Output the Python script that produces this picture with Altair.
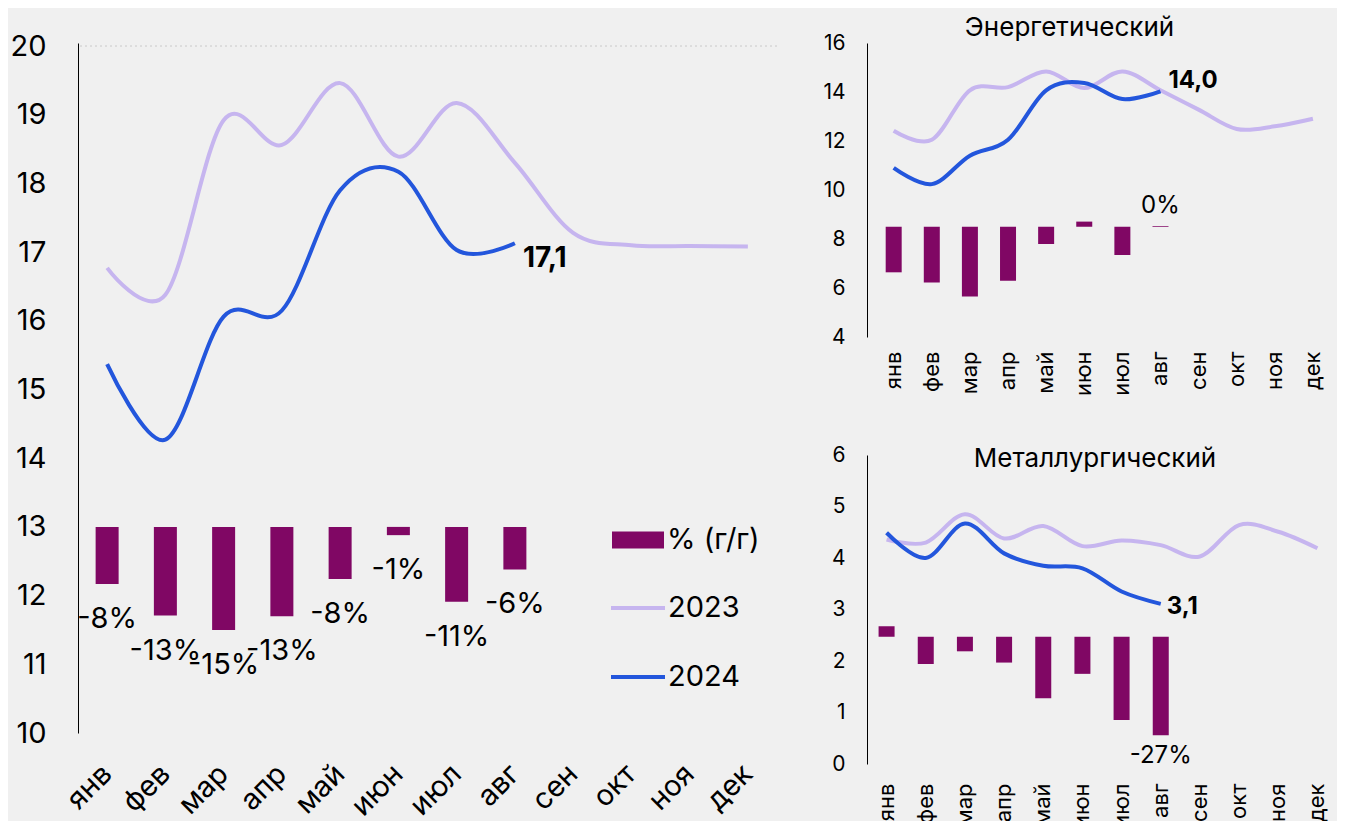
import altair as alt
import pandas as pd

months = ["янв", "фев", "мар", "апр", "май", "июн", "июл", "авг", "сен", "окт", "ноя", "дек"]

# Main panel (total)
main_2023 = [16.77, 16.38, 18.92, 18.56, 19.46, 18.39, 19.17, 18.30, 17.28, 17.10, 17.09, 17.08]
main_2024 = [15.37, 14.27, 16.06, 16.15, 17.90, 18.17, 17.03, 17.13]
main_pct = [-8.3, -12.9, -15.0, -13.0, -7.6, -1.2, -10.9, -6.2]

# Energy coal
en_2023 = [12.42, 12.05, 14.07, 14.20, 14.84, 14.16, 14.84, 14.07, 13.28, 12.49, 12.60, 12.91]
en_2024 = [10.90, 10.24, 11.40, 12.05, 14.07, 14.37, 13.71, 14.03]
en_pct = [-12.4, -15.2, -19.0, -14.7, -4.7, 1.4, -7.7, 0.2]

# Metallurgical coal
me_2023 = [4.36, 4.30, 4.85, 4.38, 4.62, 4.23, 4.34, 4.25, 4.03, 4.64, 4.51, 4.19]
me_2024 = [4.49, 4.00, 4.67, 4.09, 3.85, 3.80, 3.35, 3.11]
me_pct = [2.9, -7.5, -4.0, -7.1, -16.9, -10.2, -22.9, -27.1]

series_names = ["2023", "2024"]
bar_name = "% (г/г)"

FONT = "Inter"
C_BAR = "#800764"
C_23 = "#c6b5ef"
C_24 = "#2356dc"
BG = "#f0f0f0"


def lines_df(v23, v24):
    rows = [{"month": m, "series": "2023", "value": v} for m, v in zip(months, v23)]
    rows += [{"month": m, "series": "2024", "value": v} for m, v in zip(months, v24)]
    return pd.DataFrame(rows)


def bars_df(pct):
    return pd.DataFrame({"month": months[:len(pct)], "pct": pct, "series": bar_name})


def panel(v23, v24, pct, *, w, h, y_dom, y_ticks, bar_dom, bar_size,
          fs_tick, fs_month, month_angle, month_pad, ylab_pad,
          fs_pct, pct_filter, pct_dy, fs_end, end_dx, end_dy,
          title=None, legend=False, top_rule=None, x_pad_outer=0.0, x_align=0.5):
    ldf = lines_df(v23, v24)
    bdf = bars_df(pct)

    X = alt.X("month:N", sort=months,
              scale=alt.Scale(type="band", domain=months, paddingInner=0,
                              paddingOuter=x_pad_outer, align=x_align),
              axis=alt.Axis(title=None, labelAngle=month_angle, labelAlign="right",
                            labelBaseline="middle", labelPadding=month_pad,
                            labelFontSize=fs_month, labelFont=FONT, labelColor="black",
                            domain=False, ticks=False, grid=False))
    yscale = alt.Scale(domain=y_dom, nice=False, zero=False)
    yaxis = alt.Axis(title=None, values=y_ticks, format="d", grid=False, ticks=False,
                     domain=True, domainColor="black", domainWidth=1,
                     labelFontSize=fs_tick, labelFont=FONT, labelColor="black",
                     labelPadding=ylab_pad)
    bscale = alt.Scale(domain=bar_dom, nice=False, zero=False)

    if legend:
        stroke_leg = alt.Legend(title=None, orient="none", legendX=531, legendY=536,
                                symbolType="stroke", symbolSize=2916, symbolStrokeWidth=4,
                                labelFontSize=29, labelFont=FONT, labelColor="black",
                                rowPadding=25, labelOffset=1, symbolOpacity=1)
        fill_leg = alt.Legend(title=None, orient="none", legendX=534, legendY=471,
                              symbolType="M-1,-0.33H1V0.33H-1Z", symbolSize=2704,
                              symbolStrokeWidth=0, symbolOpacity=1,
                              labelFontSize=29, labelFont=FONT, labelColor="black",
                              labelOffset=3)
    else:
        stroke_leg = None
        fill_leg = None

    line_layers = []
    if top_rule is not None:
        rule = alt.Chart(pd.DataFrame({"v": [top_rule]})).mark_rule(
            color="#c9c9c9", strokeDash=[2, 3], strokeWidth=1
        ).encode(y=alt.Y("v:Q", scale=yscale, axis=yaxis))
        line_layers.append(rule)

    lines = alt.Chart(ldf).mark_line(interpolate="cardinal", strokeWidth=4).encode(
        x=X,
        y=alt.Y("value:Q", scale=yscale, axis=yaxis),
        stroke=alt.Stroke("series:N", scale=alt.Scale(domain=series_names, range=[C_23, C_24]),
                          legend=stroke_leg),
        order=alt.Order("series:N"),
    )
    line_layers.append(lines)

    end_lab = alt.Chart(ldf).transform_filter(
        "datum.series == '2024' && datum.month == 'авг'"
    ).transform_calculate(
        lab="replace(format(datum.value, '.1f'), '.', ',')"
    ).mark_text(align="left", baseline="middle", dx=end_dx, dy=end_dy, font=FONT,
                fontSize=fs_end, fontWeight="bold", color="black").encode(
        x=X, y=alt.Y("value:Q", scale=yscale, axis=yaxis), text="lab:N")
    line_layers.append(end_lab)

    bars = alt.Chart(bdf).mark_bar(size=bar_size).encode(
        x=X,
        y=alt.Y("pct:Q", scale=bscale, axis=None),
        y2=alt.Y2(datum=0),
        fill=alt.Fill("series:N", scale=alt.Scale(domain=[bar_name], range=[C_BAR]),
                      legend=fill_leg),
    )
    labs = alt.Chart(bdf).transform_filter(pct_filter).transform_calculate(
        lab="'' + round(datum.pct) + '%'"
    ).mark_text(font=FONT, fontSize=fs_pct, dy=pct_dy, color="black", baseline="middle").encode(
        x=X, y=alt.Y("pct:Q", scale=bscale, axis=None), text="lab:N")

    ch = alt.layer(alt.layer(bars, labs), alt.layer(*line_layers)).resolve_scale(
        y="independent", fill="independent", stroke="independent")
    props = dict(width=w, height=h)
    if title is not None:
        props["title"] = title
    return ch.properties(**props)


main = panel(main_2023, main_2024, main_pct, w=699, h=690,
             y_dom=[10, 20.044], y_ticks=list(range(10, 21)), bar_dom=[-30, 70.44],
             bar_size=23, fs_tick=29, fs_month=29, month_angle=-45, month_pad=36,
             ylab_pad=32, fs_pct=29, pct_filter="true", pct_dy=35, fs_end=28,
             end_dx=8, end_dy=16, legend=True, top_rule=20)

energy = panel(en_2023, en_2024, en_pct, w=465, h=294,
               y_dom=[4, 16], y_ticks=[4, 6, 8, 10, 12, 14, 16], bar_dom=[-30, 50],
               bar_size=16, fs_tick=21, fs_month=22, month_angle=-90, month_pad=14,
               ylab_pad=22, fs_pct=24, pct_filter="datum.month == 'авг'", pct_dy=-20,
               fs_end=24, end_dx=8, end_dy=-10, x_pad_outer=0.1, x_align=1,
               title=alt.TitleParams("Энергетический", font=FONT, fontSize=26,
                                     fontWeight="normal", color="black", anchor="middle",
                                     offset=-9, dx=-30))

metal = panel(me_2023, me_2024, me_pct, w=470, h=309,
              y_dom=[0, 6], y_ticks=[0, 1, 2, 3, 4, 5, 6], bar_dom=[-35, 50],
              bar_size=16, fs_tick=21, fs_month=22, month_angle=-90, month_pad=19,
              ylab_pad=22, fs_pct=24, pct_filter="datum.month == 'авг'", pct_dy=21,
              fs_end=24, end_dx=6, end_dy=3,
              title=alt.TitleParams("Металлургический", font=FONT, fontSize=26,
                                    fontWeight="normal", color="black", anchor="middle",
                                    offset=-28, dx=-7))

right = alt.vconcat(energy, metal, spacing=118, bounds="flush")
chart = alt.hconcat(main, right, spacing=90, bounds="flush").configure(
    background=BG, padding={"left": 2, "top": 7, "right": 0, "bottom": 0}
).configure_view(stroke=None)

chart.save("out.html", embed_options={"renderer": "svg", "actions": False})
